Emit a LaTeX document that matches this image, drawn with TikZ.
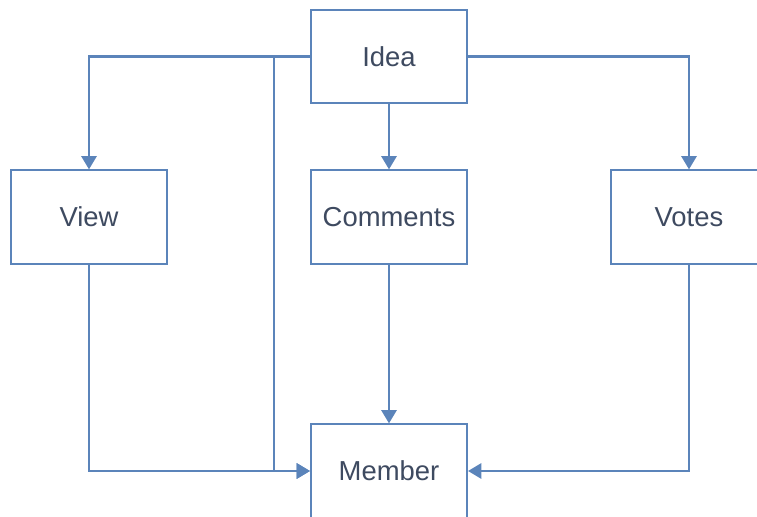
\documentclass[tikz,border=0pt]{standalone}
\usepackage{fontspec}
\setmainfont{Liberation Sans}
\usetikzlibrary{arrows.meta}
\definecolor{linkblue}{HTML}{5B84BA}
\definecolor{labelgray}{HTML}{3E4A60}
\begin{document}
\begin{tikzpicture}[x=0.025cm, y=-0.025cm, line width=1.5pt,
  entity/.style={draw=linkblue, fill=white, minimum width=3.9cm, minimum height=2.33cm,
    text=labelgray, font=\fontsize{19.5}{23}\selectfont},
  link/.style={draw=linkblue, -{Triangle[width=0.38cm, length=0.33cm]}}]
  \useasboundingbox (0,0) rectangle (757,517);
  \clip (0,0) rectangle (757,517);
  \node[entity] (idea) at (389,56.5) {Idea};
  \node[entity] (view) at (89,217) {View};
  \node[entity] (comments) at (389,217) {Comments};
  \node[entity] (votes) at (689,217) {Votes};
  \node[entity] (member) at (389,471) {Member};
  \coordinate (split) at (274,56.5);
  \draw[link] (idea.west) -| (view.north);
  \draw[link] (idea.west) -- (split) |- (member.west);
  \draw[link] (idea.south) -- (comments.north);
  \draw[link] (idea.east) -| (votes.north);
  \draw[link] (view.south) |- (member.west);
  \draw[link] (comments.south) -- (member.north);
  \draw[link] (votes.south) |- (member.east);
\end{tikzpicture}
\end{document}
